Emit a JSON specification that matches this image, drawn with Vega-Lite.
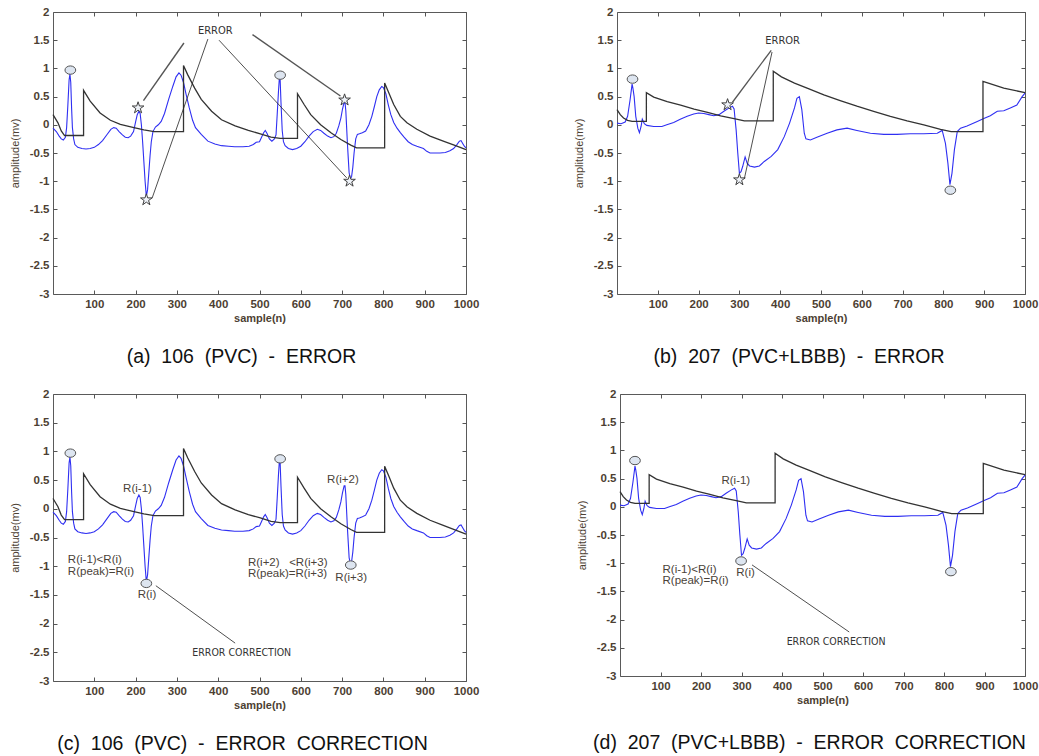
{
  "$schema": "https://vega.github.io/schema/vega-lite/v6.json",
  "background": "white",
  "padding": {"left": 8, "top": 5, "right": 0, "bottom": 0},
  "datasets": {
    "s106": [
      {"x":0,"y":-0.06},{"x":8,"y":-0.12},{"x":15,"y":-0.2},{"x":20,"y":-0.25},{"x":25,"y":-0.27},{"x":30,"y":-0.22},{"x":33,"y":-0.05},{"x":36,"y":0.35},{"x":39,"y":0.8},{"x":41,"y":0.9},{"x":43,"y":0.75},{"x":45,"y":0.3},{"x":47,"y":-0.05},{"x":50,"y":-0.25},{"x":53,"y":-0.35},{"x":60,"y":-0.4},{"x":70,"y":-0.42},{"x":80,"y":-0.43},{"x":90,"y":-0.42},{"x":100,"y":-0.4},{"x":110,"y":-0.35},{"x":120,"y":-0.28},{"x":130,"y":-0.18},{"x":140,"y":-0.08},{"x":147,"y":-0.05},{"x":153,"y":-0.06},{"x":160,"y":-0.12},{"x":168,"y":-0.18},{"x":175,"y":-0.22},{"x":182,"y":-0.23},{"x":188,"y":-0.2},{"x":195,"y":-0.12},{"x":200,"y":0.05},{"x":204,"y":0.18},{"x":208,"y":0.24},{"x":211,"y":0.2},{"x":214,"y":0.0},{"x":217,"y":-0.3},{"x":220,"y":-0.65},{"x":223,"y":-1.0},{"x":226,"y":-1.27},{"x":229,"y":-1.15},{"x":232,"y":-0.85},{"x":235,"y":-0.55},{"x":238,"y":-0.3},{"x":242,"y":-0.12},{"x":248,"y":-0.04},{"x":255,"y":0.0},{"x":262,"y":0.06},{"x":270,"y":0.2},{"x":280,"y":0.45},{"x":290,"y":0.68},{"x":298,"y":0.85},{"x":305,"y":0.92},{"x":310,"y":0.88},{"x":316,"y":0.75},{"x":322,"y":0.55},{"x":330,"y":0.3},{"x":338,"y":0.08},{"x":345,"y":-0.05},{"x":359,"y":-0.17},{"x":375,"y":-0.29},{"x":392,"y":-0.34},{"x":408,"y":-0.37},{"x":425,"y":-0.38},{"x":440,"y":-0.39},{"x":460,"y":-0.39},{"x":475,"y":-0.38},{"x":485,"y":-0.35},{"x":492,"y":-0.31},{"x":500,"y":-0.3},{"x":505,"y":-0.22},{"x":510,"y":-0.14},{"x":514,"y":-0.1},{"x":518,"y":-0.15},{"x":524,"y":-0.25},{"x":530,"y":-0.29},{"x":536,"y":-0.25},{"x":540,"y":-0.18},{"x":543,"y":0.2},{"x":546,"y":0.6},{"x":548,"y":0.82},{"x":550,"y":0.8},{"x":552,"y":0.4},{"x":555,"y":-0.1},{"x":558,"y":-0.3},{"x":562,"y":-0.37},{"x":570,"y":-0.42},{"x":580,"y":-0.44},{"x":590,"y":-0.42},{"x":600,"y":-0.38},{"x":610,"y":-0.3},{"x":620,"y":-0.2},{"x":630,"y":-0.12},{"x":640,"y":-0.08},{"x":648,"y":-0.1},{"x":656,"y":-0.15},{"x":665,"y":-0.2},{"x":673,"y":-0.23},{"x":680,"y":-0.21},{"x":686,"y":-0.15},{"x":692,"y":-0.02},{"x":697,"y":0.12},{"x":701,"y":0.28},{"x":705,"y":0.4},{"x":707,"y":0.4},{"x":709,"y":0.25},{"x":711,"y":-0.05},{"x":713,"y":-0.35},{"x":715,"y":-0.6},{"x":717,"y":-0.85},{"x":720,"y":-0.96},{"x":723,"y":-0.92},{"x":726,"y":-0.75},{"x":729,"y":-0.5},{"x":733,"y":-0.25},{"x":737,"y":-0.17},{"x":742,"y":-0.16},{"x":749,"y":-0.14},{"x":757,"y":-0.11},{"x":765,"y":0.0},{"x":772,"y":0.15},{"x":778,"y":0.32},{"x":784,"y":0.5},{"x":790,"y":0.62},{"x":796,"y":0.68},{"x":800,"y":0.66},{"x":806,"y":0.55},{"x":812,"y":0.35},{"x":818,"y":0.18},{"x":825,"y":0.04},{"x":833,"y":-0.06},{"x":841,"y":-0.14},{"x":850,"y":-0.22},{"x":860,"y":-0.3},{"x":870,"y":-0.35},{"x":881,"y":-0.38},{"x":897,"y":-0.42},{"x":905,"y":-0.47},{"x":913,"y":-0.5},{"x":925,"y":-0.5},{"x":937,"y":-0.5},{"x":950,"y":-0.49},{"x":961,"y":-0.46},{"x":970,"y":-0.42},{"x":978,"y":-0.35},{"x":984,"y":-0.29},{"x":988,"y":-0.28},{"x":992,"y":-0.33},{"x":996,"y":-0.38},{"x":1000,"y":-0.41}
    ],
    "t106": [
      {"x":0,"y":0.18},{"x":12,"y":0.035},{"x":20,"y":-0.11},{"x":28,"y":-0.19},{"x":74,"y":-0.19},{"x":74,"y":0.61},{"x":90,"y":0.42},{"x":114,"y":0.21},{"x":139,"y":0.08},{"x":163,"y":0.006},{"x":196,"y":-0.05},{"x":220,"y":-0.09},{"x":245,"y":-0.12},{"x":316,"y":-0.12},{"x":316,"y":1.05},{"x":326,"y":0.89},{"x":343,"y":0.65},{"x":359,"y":0.45},{"x":384,"y":0.24},{"x":408,"y":0.09},{"x":441,"y":-0.02},{"x":473,"y":-0.1},{"x":502,"y":-0.16},{"x":528,"y":-0.22},{"x":550,"y":-0.24},{"x":592,"y":-0.24},{"x":592,"y":0.55},{"x":608,"y":0.36},{"x":624,"y":0.18},{"x":648,"y":0.0},{"x":673,"y":-0.14},{"x":697,"y":-0.26},{"x":721,"y":-0.36},{"x":735,"y":-0.41},{"x":803,"y":-0.41},{"x":803,"y":0.74},{"x":813,"y":0.57},{"x":825,"y":0.36},{"x":841,"y":0.15},{"x":857,"y":0.035},{"x":881,"y":-0.08},{"x":913,"y":-0.2},{"x":945,"y":-0.29},{"x":978,"y":-0.38},{"x":1000,"y":-0.44}
    ],
    "s207": [
      {"x":0,"y":0.03},{"x":10,"y":0.02},{"x":20,"y":0.05},{"x":26,"y":0.15},{"x":32,"y":0.44},{"x":37,"y":0.72},{"x":39,"y":0.65},{"x":42,"y":0.5},{"x":46,"y":0.15},{"x":51,"y":-0.06},{"x":55,"y":-0.14},{"x":59,"y":-0.03},{"x":62,"y":0.1},{"x":67,"y":0.02},{"x":73,"y":-0.01},{"x":90,"y":-0.03},{"x":110,"y":-0.03},{"x":122,"y":0.0},{"x":139,"y":0.04},{"x":155,"y":0.1},{"x":172,"y":0.15},{"x":188,"y":0.19},{"x":200,"y":0.21},{"x":213,"y":0.2},{"x":225,"y":0.18},{"x":237,"y":0.16},{"x":250,"y":0.18},{"x":262,"y":0.24},{"x":275,"y":0.3},{"x":283,"y":0.33},{"x":287,"y":0.28},{"x":292,"y":-0.09},{"x":296,"y":-0.5},{"x":300,"y":-0.86},{"x":304,"y":-0.83},{"x":308,"y":-0.74},{"x":314,"y":-0.57},{"x":319,"y":-0.68},{"x":325,"y":-0.73},{"x":337,"y":-0.75},{"x":349,"y":-0.73},{"x":361,"y":-0.65},{"x":378,"y":-0.56},{"x":394,"y":-0.44},{"x":410,"y":-0.21},{"x":423,"y":0.03},{"x":435,"y":0.3},{"x":441,"y":0.47},{"x":447,"y":0.5},{"x":453,"y":0.27},{"x":459,"y":-0.15},{"x":463,"y":-0.25},{"x":474,"y":-0.27},{"x":490,"y":-0.22},{"x":515,"y":-0.15},{"x":539,"y":-0.09},{"x":564,"y":-0.06},{"x":588,"y":-0.1},{"x":621,"y":-0.15},{"x":654,"y":-0.17},{"x":686,"y":-0.17},{"x":719,"y":-0.16},{"x":752,"y":-0.16},{"x":785,"y":-0.15},{"x":797,"y":-0.1},{"x":805,"y":-0.33},{"x":811,"y":-0.68},{"x":816,"y":-1.06},{"x":821,"y":-0.86},{"x":827,"y":-0.44},{"x":834,"y":-0.12},{"x":842,"y":-0.06},{"x":858,"y":-0.02},{"x":883,"y":0.06},{"x":899,"y":0.11},{"x":915,"y":0.16},{"x":932,"y":0.24},{"x":948,"y":0.25},{"x":964,"y":0.3},{"x":980,"y":0.35},{"x":993,"y":0.5},{"x":1000,"y":0.56}
    ],
    "t207": [
      {"x":0,"y":0.27},{"x":8,"y":0.18},{"x":16,"y":0.12},{"x":26,"y":0.08},{"x":37,"y":0.06},{"x":72,"y":0.06},{"x":72,"y":0.57},{"x":90,"y":0.49},{"x":123,"y":0.41},{"x":156,"y":0.35},{"x":189,"y":0.28},{"x":222,"y":0.22},{"x":254,"y":0.16},{"x":287,"y":0.11},{"x":312,"y":0.07},{"x":383,"y":0.07},{"x":383,"y":0.95},{"x":403,"y":0.85},{"x":435,"y":0.74},{"x":466,"y":0.65},{"x":507,"y":0.53},{"x":547,"y":0.43},{"x":588,"y":0.33},{"x":629,"y":0.24},{"x":670,"y":0.15},{"x":711,"y":0.07},{"x":752,"y":0.0},{"x":793,"y":-0.08},{"x":819,"y":-0.12},{"x":897,"y":-0.12},{"x":897,"y":0.77},{"x":948,"y":0.65},{"x":1000,"y":0.57}
    ]
  },
  "config": {
    "view": {"stroke": "#5a5a5a", "strokeWidth": 1},
    "axis": {
      "grid": false, "domain": false, "tickSize": -4, "tickColor": "#555555", "tickWidth": 1,
      "labelFont": "Liberation Sans", "labelFontSize": 11.5, "labelFontWeight": "bold", "labelColor": "#4d3f33",
      "labelPadding": 8, "labelOverlap": false, "labelExpr": "'' + datum.value",
      "titleFont": "Liberation Sans", "titleFontSize": 11, "titleColor": "#4d3f33", "titleFontWeight": "normal"
    },
    "title": {"font": "Liberation Sans", "fontSize": 19.5, "fontWeight": "normal", "color": "#111111", "orient": "bottom", "anchor": "middle", "frame": "group", "offset": 24}
  },
  "vconcat": [
    {
      "hconcat": [
        {
          "width": 413, "height": 282,
          "title": {"text": "(a)\u00a0 106\u00a0 (PVC)\u00a0 -\u00a0 ERROR", "dx": -18},
          "layer": [
            {"data": {"name": "s106"}, "mark": {"type": "line", "color": "#2f2ff2", "strokeWidth": 1.1},
             "encoding": {
               "x": {"field": "x", "type": "quantitative", "scale": {"domain": [0, 1000], "nice": false, "zero": false},
                     "axis": {"orient": "bottom", "title": "sample(n)", "titleFontWeight": "bold", "titlePadding": 3, "values": [100,200,300,400,500,600,700,800,900,1000], "labelFlush": false}},
               "y": {"field": "y", "type": "quantitative", "scale": {"domain": [-3, 2], "nice": false, "zero": false},
                     "axis": {"orient": "left", "title": "amplitude(mv)", "titlePadding": 9, "values": [-3,-2.5,-2,-1.5,-1,-0.5,0,0.5,1,1.5,2]}},
               "order": {"value": null}
             }},
            {"data": {"name": "t106"}, "mark": {"type": "line", "color": "#333333", "strokeWidth": 1.3},
             "encoding": {
               "x": {"field": "x", "type": "quantitative", "axis": {"orient": "top", "labels": false, "title": null, "values": [100,200,300,400,500,600,700,800,900,1000]}},
               "y": {"field": "y", "type": "quantitative", "axis": {"orient": "right", "labels": false, "title": null, "values": [-3,-2.5,-2,-1.5,-1,-0.5,0,0.5,1,1.5,2]}},
               "order": {"value": null}
             }},
            {"data": {"values": [{"x": 317, "y": 1.45, "x2": 219, "y2": 0.43}, {"x": 483, "y": 1.6, "x2": 696, "y2": 0.51}]},
             "mark": {"type": "rule", "color": "#555555", "strokeWidth": 1.4},
             "encoding": {"x": {"field": "x", "type": "quantitative", "axis": null}, "y": {"field": "y", "type": "quantitative", "axis": null}, "x2": {"field": "x2"}, "y2": {"field": "y2"}}},
            {"data": {"values": [{"x": 375, "y": 1.52, "x2": 240, "y2": -1.3}, {"x": 402, "y": 1.5, "x2": 711, "y2": -0.94}]},
             "mark": {"type": "rule", "color": "#222222", "strokeWidth": 0.8},
             "encoding": {"x": {"field": "x", "type": "quantitative", "axis": null}, "y": {"field": "y", "type": "quantitative", "axis": null}, "x2": {"field": "x2"}, "y2": {"field": "y2"}}},
            {"data": {"values": [{"x": 42, "y": 0.97}, {"x": 550, "y": 0.88}]},
             "mark": {"type": "point", "shape": "M-1,0A1,0.78,0,1,0,1,0A1,0.78,0,1,0,-1,0Z", "filled": true, "fill": "#dde5f0", "stroke": "#555555", "strokeWidth": 1, "size": 115, "opacity": 1},
             "encoding": {"x": {"field": "x", "type": "quantitative", "axis": null}, "y": {"field": "y", "type": "quantitative", "axis": null}}},
            {"data": {"values": [{"x": 206, "y": 0.3}, {"x": 226, "y": -1.33}, {"x": 706, "y": 0.44}, {"x": 718, "y": -1.0}]},
             "mark": {"type": "point", "shape": "M0,-1L0.2245,-0.309L0.951,-0.309L0.363,0.118L0.588,0.809L0,0.382L-0.588,0.809L-0.363,0.118L-0.951,-0.309L-0.2245,-0.309Z", "filled": true, "fill": "#eef2f8", "stroke": "#404040", "strokeWidth": 1, "size": 150, "opacity": 1},
             "encoding": {"x": {"field": "x", "type": "quantitative", "axis": null}, "y": {"field": "y", "type": "quantitative", "axis": null}}},
            {"data": {"values": [{"x": 393, "y": 1.67, "label": "ERROR"}]},
             "mark": {"type": "text", "font": "Liberation Sans Narrow, DejaVu Sans Condensed, sans-serif", "fontSize": 11, "color": "#333333", "align": "center", "baseline": "middle"},
             "encoding": {"x": {"field": "x", "type": "quantitative", "axis": null}, "y": {"field": "y", "type": "quantitative", "axis": null}, "text": {"field": "label"}}}
          ],
          "resolve": {"axis": {"x": "independent", "y": "independent"}}
        },
        {
          "width": 408, "height": 282,
          "title": {"text": "(b)\u00a0 207\u00a0 (PVC+LBBB)\u00a0 -\u00a0 ERROR", "dx": -22},
          "layer": [
            {"data": {"name": "s207"}, "mark": {"type": "line", "color": "#2f2ff2", "strokeWidth": 1.1},
             "encoding": {
               "x": {"field": "x", "type": "quantitative", "scale": {"domain": [0, 1000], "nice": false, "zero": false},
                     "axis": {"orient": "bottom", "title": "sample(n)", "titleFontWeight": "bold", "titlePadding": 3, "values": [100,200,300,400,500,600,700,800,900,1000], "labelFlush": false}},
               "y": {"field": "y", "type": "quantitative", "scale": {"domain": [-3, 2], "nice": false, "zero": false},
                     "axis": {"orient": "left", "title": "amplitude(mv)", "titlePadding": 9, "values": [-3,-2.5,-2,-1.5,-1,-0.5,0,0.5,1,1.5,2]}},
               "order": {"value": null}
             }},
            {"data": {"name": "t207"}, "mark": {"type": "line", "color": "#333333", "strokeWidth": 1.3},
             "encoding": {
               "x": {"field": "x", "type": "quantitative", "axis": {"orient": "top", "labels": false, "title": null, "values": [100,200,300,400,500,600,700,800,900,1000]}},
               "y": {"field": "y", "type": "quantitative", "axis": {"orient": "right", "labels": false, "title": null, "values": [-3,-2.5,-2,-1.5,-1,-0.5,0,0.5,1,1.5,2]}},
               "order": {"value": null}
             }},
            {"data": {"values": [{"x": 378, "y": 1.32, "x2": 283, "y2": 0.4}]},
             "mark": {"type": "rule", "color": "#555555", "strokeWidth": 1.3},
             "encoding": {"x": {"field": "x", "type": "quantitative", "axis": null}, "y": {"field": "y", "type": "quantitative", "axis": null}, "x2": {"field": "x2"}, "y2": {"field": "y2"}}},
            {"data": {"values": [{"x": 380, "y": 1.29, "x2": 312, "y2": -0.96}]},
             "mark": {"type": "rule", "color": "#222222", "strokeWidth": 0.8},
             "encoding": {"x": {"field": "x", "type": "quantitative", "axis": null}, "y": {"field": "y", "type": "quantitative", "axis": null}, "x2": {"field": "x2"}, "y2": {"field": "y2"}}},
            {"data": {"values": [{"x": 38, "y": 0.81}, {"x": 817, "y": -1.16}]},
             "mark": {"type": "point", "shape": "M-1,0A1,0.78,0,1,0,1,0A1,0.78,0,1,0,-1,0Z", "filled": true, "fill": "#dde5f0", "stroke": "#555555", "strokeWidth": 1, "size": 115, "opacity": 1},
             "encoding": {"x": {"field": "x", "type": "quantitative", "axis": null}, "y": {"field": "y", "type": "quantitative", "axis": null}}},
            {"data": {"values": [{"x": 271, "y": 0.355}, {"x": 300, "y": -0.975}]},
             "mark": {"type": "point", "shape": "M0,-1L0.2245,-0.309L0.951,-0.309L0.363,0.118L0.588,0.809L0,0.382L-0.588,0.809L-0.363,0.118L-0.951,-0.309L-0.2245,-0.309Z", "filled": true, "fill": "#eef2f8", "stroke": "#404040", "strokeWidth": 1, "size": 150, "opacity": 1},
             "encoding": {"x": {"field": "x", "type": "quantitative", "axis": null}, "y": {"field": "y", "type": "quantitative", "axis": null}}},
            {"data": {"values": [{"x": 406, "y": 1.48, "label": "ERROR"}]},
             "mark": {"type": "text", "font": "Liberation Sans Narrow, DejaVu Sans Condensed, sans-serif", "fontSize": 11, "color": "#333333", "align": "center", "baseline": "middle"},
             "encoding": {"x": {"field": "x", "type": "quantitative", "axis": null}, "y": {"field": "y", "type": "quantitative", "axis": null}, "text": {"field": "label"}}}
          ],
          "resolve": {"axis": {"x": "independent", "y": "independent"}}
        }
      ],
      "spacing": 92
    },
    {
      "hconcat": [
        {
          "width": 413, "height": 287,
          "title": {"text": "(c)\u00a0 106\u00a0 (PVC)\u00a0 -\u00a0 ERROR\u00a0 CORRECTION", "dx": -17},
          "layer": [
            {"data": {"name": "s106"}, "mark": {"type": "line", "color": "#2f2ff2", "strokeWidth": 1.1},
             "encoding": {
               "x": {"field": "x", "type": "quantitative", "scale": {"domain": [0, 1000], "nice": false, "zero": false},
                     "axis": {"orient": "bottom", "title": "sample(n)", "titleFontWeight": "bold", "titlePadding": 3, "values": [100,200,300,400,500,600,700,800,900,1000], "labelFlush": false}},
               "y": {"field": "y", "type": "quantitative", "scale": {"domain": [-3, 2], "nice": false, "zero": false},
                     "axis": {"orient": "left", "title": "amplitude(mv)", "titlePadding": 9, "values": [-3,-2.5,-2,-1.5,-1,-0.5,0,0.5,1,1.5,2]}},
               "order": {"value": null}
             }},
            {"data": {"name": "t106"}, "mark": {"type": "line", "color": "#333333", "strokeWidth": 1.3},
             "encoding": {
               "x": {"field": "x", "type": "quantitative", "axis": {"orient": "top", "labels": false, "title": null, "values": [100,200,300,400,500,600,700,800,900,1000]}},
               "y": {"field": "y", "type": "quantitative", "axis": {"orient": "right", "labels": false, "title": null, "values": [-3,-2.5,-2,-1.5,-1,-0.5,0,0.5,1,1.5,2]}},
               "order": {"value": null}
             }},
            {"data": {"values": [{"x": 249, "y": -1.34, "x2": 441, "y2": -2.34}]},
             "mark": {"type": "rule", "color": "#222222", "strokeWidth": 0.8},
             "encoding": {"x": {"field": "x", "type": "quantitative", "axis": null}, "y": {"field": "y", "type": "quantitative", "axis": null}, "x2": {"field": "x2"}, "y2": {"field": "y2"}}},
            {"data": {"values": [{"x": 42, "y": 0.97}, {"x": 550, "y": 0.87}, {"x": 226, "y": -1.3}, {"x": 721, "y": -0.98}]},
             "mark": {"type": "point", "shape": "M-1,0A1,0.78,0,1,0,1,0A1,0.78,0,1,0,-1,0Z", "filled": true, "fill": "#dde5f0", "stroke": "#555555", "strokeWidth": 1, "size": 115, "opacity": 1},
             "encoding": {"x": {"field": "x", "type": "quantitative", "axis": null}, "y": {"field": "y", "type": "quantitative", "axis": null}}},
            {"data": {"values": [{"x": 204.6, "y": 0.34, "label": "R(i-1)"}, {"x": 227.5, "y": -1.5, "label": "R(i)"}, {"x": 702, "y": 0.506, "label": "R(i+2)"}, {"x": 722, "y": -1.2, "label": "R(i+3)"}]},
             "mark": {"type": "text", "font": "Liberation Sans", "fontSize": 11.5, "color": "#4a4238", "align": "center", "baseline": "middle"},
             "encoding": {"x": {"field": "x", "type": "quantitative", "axis": null}, "y": {"field": "y", "type": "quantitative", "axis": null}, "text": {"field": "label"}}},
            {"data": {"values": [{"x": 36, "y": -0.9, "label": "R(i-1)<R(i)"}, {"x": 36, "y": -1.105, "label": "R(peak)=R(i)"}, {"x": 472, "y": -0.936, "label": "R(i+2)\u00a0\u00a0\u00a0<R(i+3)"}, {"x": 472, "y": -1.14, "label": "R(peak)=R(i+3)"}]},
             "mark": {"type": "text", "font": "Liberation Sans", "fontSize": 11.5, "color": "#4a4238", "align": "left", "baseline": "middle"},
             "encoding": {"x": {"field": "x", "type": "quantitative", "axis": null}, "y": {"field": "y", "type": "quantitative", "axis": null}, "text": {"field": "label"}}},
            {"data": {"values": [{"x": 457, "y": -2.52, "label": "ERROR CORRECTION"}]},
             "mark": {"type": "text", "font": "Liberation Sans Narrow, DejaVu Sans Condensed, sans-serif", "fontSize": 10.5, "color": "#333333", "align": "center", "baseline": "middle"},
             "encoding": {"x": {"field": "x", "type": "quantitative", "axis": null}, "y": {"field": "y", "type": "quantitative", "axis": null}, "text": {"field": "label"}}}
          ],
          "resolve": {"axis": {"x": "independent", "y": "independent"}}
        },
        {
          "width": 405, "height": 282,
          "title": {"text": "(d)\u00a0 207\u00a0 (PVC+LBBB)\u00a0 -\u00a0 ERROR\u00a0 CORRECTION", "dx": -13, "offset": 28},
          "layer": [
            {"data": {"name": "s207"}, "mark": {"type": "line", "color": "#2f2ff2", "strokeWidth": 1.1},
             "encoding": {
               "x": {"field": "x", "type": "quantitative", "scale": {"domain": [0, 1000], "nice": false, "zero": false},
                     "axis": {"orient": "bottom", "title": "sample(n)", "titleFontWeight": "bold", "titlePadding": 3, "values": [100,200,300,400,500,600,700,800,900,1000], "labelFlush": false}},
               "y": {"field": "y", "type": "quantitative", "scale": {"domain": [-3, 2], "nice": false, "zero": false},
                     "axis": {"orient": "left", "title": "amplitude(mv)", "titlePadding": 9, "values": [-3,-2.5,-2,-1.5,-1,-0.5,0,0.5,1,1.5,2]}},
               "order": {"value": null}
             }},
            {"data": {"name": "t207"}, "mark": {"type": "line", "color": "#333333", "strokeWidth": 1.3},
             "encoding": {
               "x": {"field": "x", "type": "quantitative", "axis": {"orient": "top", "labels": false, "title": null, "values": [100,200,300,400,500,600,700,800,900,1000]}},
               "y": {"field": "y", "type": "quantitative", "axis": {"orient": "right", "labels": false, "title": null, "values": [-3,-2.5,-2,-1.5,-1,-0.5,0,0.5,1,1.5,2]}},
               "order": {"value": null}
             }},
            {"data": {"values": [{"x": 326, "y": -1.03, "x2": 566, "y2": -2.22}]},
             "mark": {"type": "rule", "color": "#222222", "strokeWidth": 0.8},
             "encoding": {"x": {"field": "x", "type": "quantitative", "axis": null}, "y": {"field": "y", "type": "quantitative", "axis": null}, "x2": {"field": "x2"}, "y2": {"field": "y2"}}},
            {"data": {"values": [{"x": 37, "y": 0.82}, {"x": 299, "y": -0.96}, {"x": 817, "y": -1.15}]},
             "mark": {"type": "point", "shape": "M-1,0A1,0.78,0,1,0,1,0A1,0.78,0,1,0,-1,0Z", "filled": true, "fill": "#dde5f0", "stroke": "#555555", "strokeWidth": 1, "size": 115, "opacity": 1},
             "encoding": {"x": {"field": "x", "type": "quantitative", "axis": null}, "y": {"field": "y", "type": "quantitative", "axis": null}}},
            {"data": {"values": [{"x": 286, "y": 0.455, "label": "R(i-1)"}, {"x": 310, "y": -1.18, "label": "R(i)"}]},
             "mark": {"type": "text", "font": "Liberation Sans", "fontSize": 11.5, "color": "#4a4238", "align": "center", "baseline": "middle"},
             "encoding": {"x": {"field": "x", "type": "quantitative", "axis": null}, "y": {"field": "y", "type": "quantitative", "axis": null}, "text": {"field": "label"}}},
            {"data": {"values": [{"x": 105, "y": -1.12, "label": "R(i-1)<R(i)"}, {"x": 105, "y": -1.32, "label": "R(peak)=R(i)"}]},
             "mark": {"type": "text", "font": "Liberation Sans", "fontSize": 11.5, "color": "#4a4238", "align": "left", "baseline": "middle"},
             "encoding": {"x": {"field": "x", "type": "quantitative", "axis": null}, "y": {"field": "y", "type": "quantitative", "axis": null}, "text": {"field": "label"}}},
            {"data": {"values": [{"x": 533.5, "y": -2.39, "label": "ERROR CORRECTION"}]},
             "mark": {"type": "text", "font": "Liberation Sans Narrow, DejaVu Sans Condensed, sans-serif", "fontSize": 10.5, "color": "#333333", "align": "center", "baseline": "middle"},
             "encoding": {"x": {"field": "x", "type": "quantitative", "axis": null}, "y": {"field": "y", "type": "quantitative", "axis": null}, "text": {"field": "label"}}}
          ],
          "resolve": {"axis": {"x": "independent", "y": "independent"}}
        }
      ],
      "spacing": 95
    }
  ],
  "spacing": 20
}
